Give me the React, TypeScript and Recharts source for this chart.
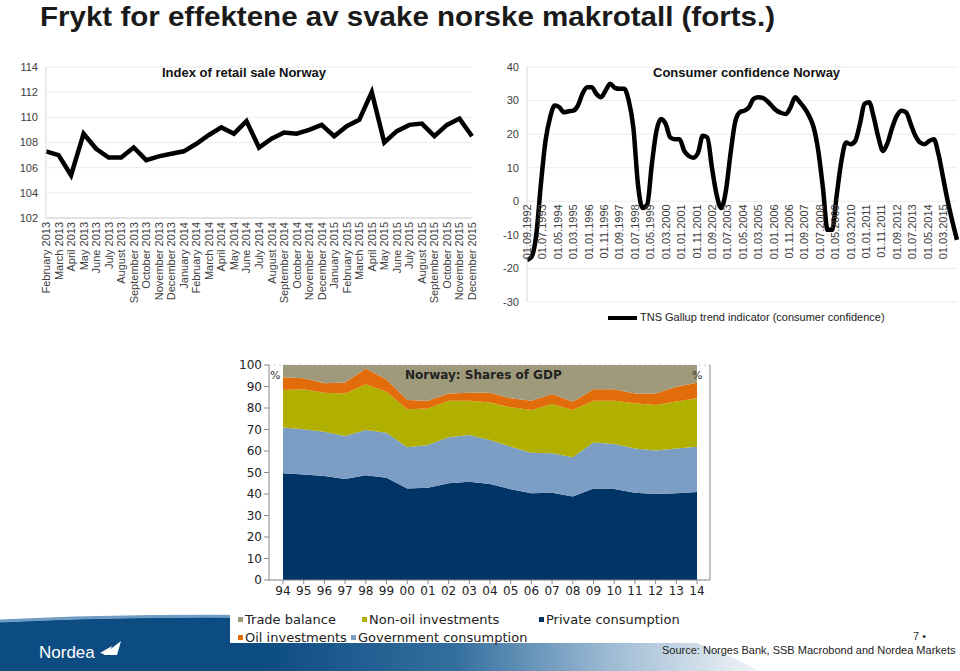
import React from "react";
import { LineChart, Line, XAxis, YAxis, CartesianGrid, AreaChart, Area } from "recharts";

const ARIAL = '"Liberation Sans", Arial, sans-serif';
const VERDANA = '"DejaVu Sans", Verdana, sans-serif';

// Index of retail sale Norway (monthly)
const retailMonths = [
  "February 2013", "March 2013", "April 2013", "May 2013", "June 2013", "July 2013",
  "August 2013", "September 2013", "October 2013", "November 2013", "December 2013",
  "January 2014", "February 2014", "March 2014", "April 2014", "May 2014", "June 2014",
  "July 2014", "August 2014", "September 2014", "October 2014", "November 2014",
  "December 2014", "January 2015", "February 2015", "March 2015", "April 2015", "May 2015",
  "June 2015", "July 2015", "August 2015", "September 2015", "October 2015",
  "November 2015", "December 2015",
];
const retailIndex = [
  107.3, 107.0, 105.4, 108.7, 107.5, 106.8, 106.8, 107.6, 106.6, 106.9, 107.1,
  107.3, 107.9, 108.6, 109.2, 108.7, 109.7, 107.6, 108.3, 108.8, 108.7, 109.0,
  109.4, 108.5, 109.3, 109.8, 112.0, 108.0, 108.9, 109.4, 109.5, 108.5, 109.4,
  109.9, 108.5,
];
const retailTicks = [102, 104, 106, 108, 110, 112, 114];

// TNS Gallup trend indicator, quarterly from 01.09.1992 (x = months since then)
const confidenceStepMonths = 3;
const confidenceValues = [
  -17.5, -16.5, -10, 5, 18, 25, 28.5, 28, 26.5, 26.8, 27, 28.5, 32, 34, 34, 32,
  31, 33, 35, 33.8, 33.5, 33.5, 30, 22, 5, -2, -1, 11, 21, 24.5, 23, 19,
  18.5, 18.5, 15, 13.5, 13, 14.5, 19.5, 19, 10, 2, -2, 3, 14, 23.5, 26.5, 27,
  28, 30.5, 31, 30.8, 29.8, 28.3, 27, 26.3, 26, 28, 31, 29.5, 27.8, 25.5,
  22, 15, 4, -8.5, -8.5, 2, 12, 17.5, 17, 18, 23, 29, 29.5, 25, 19, 15,
  17.5, 22, 25.5, 27, 26.5, 23, 19.5, 17.5, 17, 18, 18.5, 14, 7, 0, -6, -11.5,
];
const confidenceTicks = [-30, -20, -10, 0, 10, 20, 30, 40];
const confidenceDateTicks = [
  0, 10, 20, 30, 40, 50, 60, 70, 80, 90, 100, 110, 120, 130, 140,
  150, 160, 170, 180, 190, 200, 210, 220, 230, 240, 250, 260, 270,
];

// Norway: shares of GDP (%)
const gdpYears = [
  "94", "95", "96", "97", "98", "99", "00", "01", "02", "03", "04",
  "05", "06", "07", "08", "09", "10", "11", "12", "13", "14",
];
const privateConsumption = [
  49.6, 49.1, 48.4, 47.0, 48.7, 47.6, 42.6, 42.9, 45.0, 45.7, 44.7,
  42.2, 40.3, 40.6, 38.8, 42.6, 42.3, 40.6, 40.0, 40.3, 40.9,
];
const governmentConsumption = [
  21.3, 21.0, 20.6, 20.0, 21.1, 20.9, 19.1, 19.9, 21.4, 21.7, 20.4,
  19.8, 18.9, 18.3, 18.3, 21.4, 21.0, 20.6, 20.2, 20.9, 21.1,
];
const nonOilInvestments = [
  17.5, 18.6, 18.1, 19.8, 21.2, 19.1, 17.7, 17.0, 17.0, 16.0, 17.5,
  18.3, 19.9, 23.0, 22.0, 19.4, 20.1, 21.0, 21.2, 21.8, 22.5,
];
const oilInvestments = [
  5.9, 5.1, 4.4, 5.1, 7.4, 5.7, 4.3, 3.6, 3.4, 3.7, 4.5,
  4.2, 4.3, 4.6, 3.8, 5.3, 5.3, 4.6, 5.4, 6.9, 7.3,
];
const tradeBalance = [
  5.7, 6.2, 8.5, 8.1, 1.6, 6.7, 16.3, 16.6, 13.2, 12.9, 12.9,
  15.5, 16.6, 13.5, 17.1, 11.3, 11.3, 13.2, 13.2, 10.1, 8.2,
];
const gdpTicks = [0, 10, 20, 30, 40, 50, 60, 70, 80, 90, 100];

const gdpSeries = [
  { key: "trade", name: "Trade balance", color: "#a09a7c" },
  { key: "nonoil", name: "Non-oil investments", color: "#b1b000" },
  { key: "private", name: "Private consumption", color: "#003366" },
  { key: "oil", name: "Oil investments", color: "#e26b0a" },
  { key: "gov", name: "Government consumption", color: "#7c9dc4" },
];

const retailData = retailMonths.map((m, i) => ({ month: m, value: retailIndex[i] }));
const confidenceData = confidenceValues.map((v, i) => ({ m: i * confidenceStepMonths, value: v }));
const gdpData = gdpYears.map((y, i) => ({
  year: y,
  private: privateConsumption[i],
  gov: governmentConsumption[i],
  nonoil: nonOilInvestments[i],
  oil: oilInvestments[i],
  trade: tradeBalance[i],
}));

function monthLabel(m: number) {
  const total = 8 + m; // Sep 1992 is month index 8 of 1992
  const year = 1992 + Math.floor(total / 12);
  const mo = (total % 12) + 1;
  return `01.${mo < 10 ? "0" + mo : mo}.${year}`;
}

// layout of the consumer confidence plot
const CC_TOP = 67;
const CC_H = 235;
const CC_ZERO_Y = CC_TOP + (CC_H * 40) / 70;

function RetailTick({ x, y, payload }: any) {
  return (
    <text transform={`translate(${x + 4},${y}) rotate(-90)`} textAnchor="end"
      fontSize={11} fill="#404040" fontFamily={ARIAL}>
      {payload.value}
    </text>
  );
}

function ConfidenceTick({ x, payload }: any) {
  return (
    <text transform={`translate(${x + 4},${CC_ZERO_Y + 3}) rotate(-90)`} textAnchor="end"
      fontSize={11} fill="#404040" fontFamily={ARIAL}>
      {monthLabel(payload.value)}
    </text>
  );
}

const yTick = { fontSize: 11, fill: "#404040", fontFamily: ARIAL };
const gdpTick = { fontSize: 12, fill: "#222", fontFamily: VERDANA };

export default function App() {
  return (
    <div style={{ position: "absolute", left: 0, top: 0, width: 960, height: 671, overflow: "hidden", background: "#fff", fontFamily: ARIAL }}>
      {/* slide title */}
      <svg width={960} height={40} style={{ position: "absolute", left: 0, top: 0 }}>
        <text x={40} y={26} fontSize={27} fontWeight="bold" fill="#1a1a1a" fontFamily={ARIAL}
          textLength={735} lengthAdjust="spacingAndGlyphs">
          Frykt for effektene av svake norske makrotall (forts.)
        </text>
      </svg>

      {/* footer band */}
      <svg width={960} height={671} style={{ position: "absolute", left: 0, top: 0 }}>
        <defs>
          <linearGradient id="band" gradientUnits="userSpaceOnUse" x1={0} y1={0} x2={760} y2={0}>
            <stop offset="0" stopColor="#0d4c82" />
            <stop offset="0.35" stopColor="#0d4c82" />
            <stop offset="0.6" stopColor="#346f9f" />
            <stop offset="0.8" stopColor="#9cbad3" />
            <stop offset="1" stopColor="#f2f5f8" />
          </linearGradient>
        </defs>
        <path d="M0,622 C120,616 300,615 560,619 C640,621 700,640 760,671 L0,671 Z" fill="url(#band)" />
        <path d="M0,621 C120,615 240,616 300,617" fill="none" stroke="#6f9cc4" strokeWidth={3} />
        <text x={39} y={658} fontSize={17} fill="#fff" fontFamily={ARIAL}>Nordea</text>
        <path d="M103,655 L121,641 L117,655 Z" fill="#fff" />
        <path d="M100,653 L112,646 L108,655 Z" fill="#fff" />
        <text x={913} y={640} fontSize={11} fill="#333" fontFamily={ARIAL}>7 •</text>
        <text x={662} y={654} fontSize={11} fill="#222" fontFamily={ARIAL}>
          Source: Norges Bank, SSB Macrobond and Nordea Markets
        </text>
      </svg>

      {/* Index of retail sale Norway */}
      <div style={{ position: "absolute", left: 0, top: 0 }}>
        <LineChart width={480} height={310} data={retailData}
          margin={{ top: 67, right: 8, bottom: 10, left: 0 }}>
          <CartesianGrid vertical={false} stroke="#ebebeb" />
          <XAxis dataKey="month" interval={0} height={82} tick={<RetailTick />}
            tickLine={false} tickSize={0} tickMargin={4} axisLine={{ stroke: "#cfcfcf" }} />
          <YAxis domain={[102, 114]} ticks={retailTicks} width={46} tick={yTick}
            tickLine={false} axisLine={{ stroke: "#d9d9d9" }} />
          <Line type="linear" dataKey="value" stroke="#000" strokeWidth={4.5} dot={false}
            isAnimationActive={false} />
        </LineChart>
      </div>
      <div style={{ position: "absolute", left: 162, top: 65, fontSize: 13, fontWeight: "bold", color: "#111" }}>
        Index of retail sale Norway
      </div>

      {/* Consumer confidence Norway */}
      <div style={{ position: "absolute", left: 480, top: 0 }}>
        <LineChart width={480} height={340} data={confidenceData}
          margin={{ top: CC_TOP, right: 3, bottom: 340 - CC_TOP - CC_H - 1, left: 0 }}>
          <CartesianGrid vertical={false} stroke="#ebebeb" />
          <XAxis dataKey="m" type="number" domain={[0, 279]} ticks={confidenceDateTicks}
            interval={0} height={1} tick={<ConfidenceTick />} tickLine={false} axisLine={false} />
          <YAxis domain={[-30, 40]} ticks={confidenceTicks} width={47} tick={yTick}
            tickLine={false} axisLine={{ stroke: "#d9d9d9" }} />
          <Line type="monotone" dataKey="value" stroke="#000" strokeWidth={4.5} dot={false}
            isAnimationActive={false} />
        </LineChart>
      </div>
      <div style={{ position: "absolute", left: 653, top: 65, fontSize: 13, fontWeight: "bold", color: "#111" }}>
        Consumer confidence Norway
      </div>
      <div style={{ position: "absolute", left: 608, top: 316, width: 29, height: 4, background: "#000" }} />
      <div style={{ position: "absolute", left: 640, top: 311, fontSize: 11, color: "#222", whiteSpace: "nowrap" }}>
        TNS Gallup trend indicator (consumer confidence)
      </div>

      {/* Norway: Shares of GDP */}
      <div style={{ position: "absolute", left: 230, top: 350, width: 490, height: 293, background: "#fff" }} />
      <div style={{ position: "absolute", left: 230, top: 350 }}>
        <AreaChart width={520} height={260} data={gdpData}
          margin={{ top: 15, right: 0, bottom: 5, left: 0 }}>
          <CartesianGrid vertical={false} stroke="#cccccc" strokeDasharray="2 3" />
          <XAxis dataKey="year" interval={0} height={25} padding={{ left: 14, right: 13 }}
            tick={gdpTick} tickSize={4} tickLine={{ stroke: "#888" }} axisLine={{ stroke: "#888" }} />
          <YAxis yAxisId="left" domain={[0, 100]} ticks={gdpTicks} width={39} tick={gdpTick}
            tickSize={5} tickLine={{ stroke: "#888" }} axisLine={{ stroke: "#888" }} />
          <YAxis yAxisId="right" orientation="right" domain={[0, 100]} ticks={gdpTicks} width={40}
            tick={gdpTick} tickSize={4} tickLine={{ stroke: "#888" }} axisLine={{ stroke: "#888" }} />
          <Area yAxisId="left" type="linear" dataKey="private" stackId="gdp" stroke="none" fill="#003366" fillOpacity={1} isAnimationActive={false} />
          <Area yAxisId="left" type="linear" dataKey="gov" stackId="gdp" stroke="none" fill="#7c9dc4" fillOpacity={1} isAnimationActive={false} />
          <Area yAxisId="left" type="linear" dataKey="nonoil" stackId="gdp" stroke="none" fill="#b1b000" fillOpacity={1} isAnimationActive={false} />
          <Area yAxisId="left" type="linear" dataKey="oil" stackId="gdp" stroke="none" fill="#e26b0a" fillOpacity={1} isAnimationActive={false} />
          <Area yAxisId="left" type="linear" dataKey="trade" stackId="gdp" stroke="none" fill="#a09a7c" fillOpacity={1} isAnimationActive={false} />
        </AreaChart>
      </div>
      <div style={{ position: "absolute", left: 405, top: 368, fontSize: 12, fontWeight: "bold", color: "#222", fontFamily: VERDANA }}>
        Norway: Shares of GDP
      </div>
      <div style={{ position: "absolute", left: 270, top: 369, fontSize: 11, color: "#333", fontFamily: VERDANA }}>%</div>
      <div style={{ position: "absolute", left: 692, top: 369, fontSize: 11, color: "#333", fontFamily: VERDANA }}>%</div>

      {/* GDP legend */}
      {[
        { s: gdpSeries[0], x: 238, y: 612 },
        { s: gdpSeries[1], x: 362, y: 612 },
        { s: gdpSeries[2], x: 539, y: 612 },
        { s: gdpSeries[3], x: 238, y: 630 },
        { s: gdpSeries[4], x: 351, y: 630 },
      ].map(({ s, x, y }) => (
        <div key={s.key} style={{ position: "absolute", left: x, top: y, fontSize: 13, color: "#222", fontFamily: VERDANA, whiteSpace: "nowrap", display: "flex", alignItems: "center" }}>
          <span style={{ display: "inline-block", width: 5, height: 5, background: s.color, marginRight: 2 }} />
          {s.name}
        </div>
      ))}
    </div>
  );
}
